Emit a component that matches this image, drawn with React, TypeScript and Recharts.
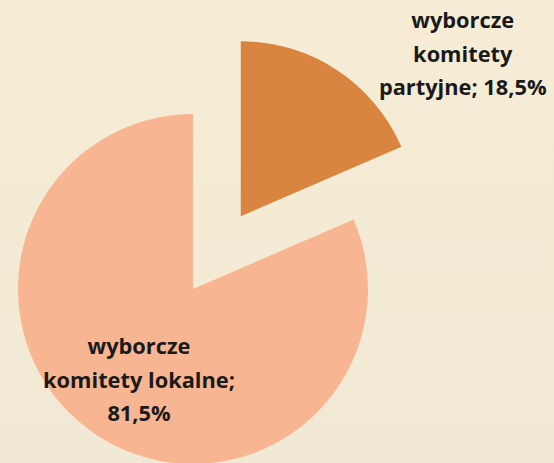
import { PieChart, Pie, Cell } from 'recharts';

const categories = ['wyborcze komitety partyjne', 'wyborcze komitety lokalne'];
const shares = [18.5, 81.5];
// label lines, {p} is replaced by the formatted share
const labelLines = [
  ['wyborcze', 'komitety', 'partyjne; {p}'],
  ['wyborcze', 'komitety lokalne;', '{p}'],
];
const colors = ['#d9843f', '#f8b592'];

const data = categories.map((name, i) => ({ name, value: shares[i] }));

const WIDTH = 554;
const HEIGHT = 463;
const CX = 193;
const CY = 289;
const RADIUS = 175;
const EXPLODE = 87;

const total = shares.reduce((a, b) => a + b, 0);
const midDeg = ((shares[0] / total) * 360) / 2;
const explodedCx = CX + EXPLODE * Math.sin((midDeg * Math.PI) / 180);
const explodedCy = CY - EXPLODE * Math.cos((midDeg * Math.PI) / 180);

const fmt = (v: number) => `${v.toFixed(1).replace('.', ',')}%`;

// label anchor (centre x, first baseline) relative to the slice's own pie centre
const labelOffsets = [
  { dx: 222, dy: -188 },
  { dx: -54, dy: 65 },
];
const LINE_H = 33.5;

function makeLabel(showIndex: number) {
  return (props: any) => {
    const { cx, cy, index, value } = props;
    if (index !== showIndex) return null;
    const off = labelOffsets[index];
    const x = cx + off.dx;
    const y = cy + off.dy;
    return (
      <text
        x={x}
        y={y}
        textAnchor="middle"
        fill="#1a1a1a"
        fontFamily="'Open Sans', sans-serif"
        fontWeight={700}
        fontSize={21.8}
      >
        {labelLines[index].map((line, i) => (
          <tspan key={i} x={x} y={y + i * LINE_H}>
            {line.replace('{p}', fmt(value))}
          </tspan>
        ))}
      </text>
    );
  };
}

export default function App() {
  return (
    <div
      style={{
        position: 'absolute',
        left: 0,
        top: 0,
        width: WIDTH,
        height: HEIGHT,
        background: 'linear-gradient(#f7edd6, #f1e9d4)',
        overflow: 'hidden',
      }}
    >
      <PieChart width={WIDTH} height={HEIGHT} margin={{ top: 0, right: 0, bottom: 0, left: 0 }}>
        <Pie
          data={data}
          dataKey="value"
          cx={CX}
          cy={CY}
          outerRadius={RADIUS}
          startAngle={90}
          endAngle={-270}
          stroke="none"
          label={makeLabel(1)}
          labelLine={false}
          isAnimationActive={false}
        >
          {data.map((_, i) => (
            <Cell key={i} fill={i === 1 ? colors[1] : 'none'} />
          ))}
        </Pie>
        <Pie
          data={data}
          dataKey="value"
          cx={explodedCx}
          cy={explodedCy}
          outerRadius={RADIUS}
          startAngle={90}
          endAngle={-270}
          stroke="none"
          label={makeLabel(0)}
          labelLine={false}
          isAnimationActive={false}
        >
          {data.map((_, i) => (
            <Cell key={i} fill={i === 0 ? colors[0] : 'none'} />
          ))}
        </Pie>
      </PieChart>
    </div>
  );
}
